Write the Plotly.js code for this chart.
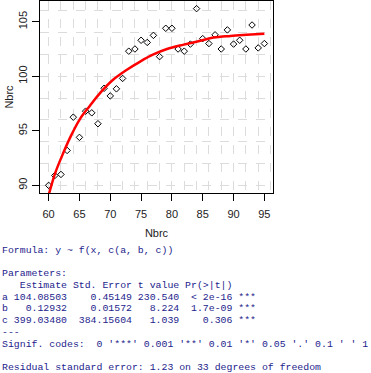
<!DOCTYPE html>
<html>
<head>
<meta charset="utf-8">
<script src="https://cdn.plot.ly/plotly-3.0.1.min.js"></script>
<style>html,body{margin:0;padding:0;background:#fff;}</style>
</head>
<body>
<div id="chart" style="width:371px;height:373px;"></div>
<script>
const nbrcX = [60,61,62,63,64,65,66,67,68,69,70,71,72,73,74,75,76,77,78,79,80,81,82,83,84,85,86,87,88,89,90,91,92,93,94,95];
const nbrcY = [90.0,90.9,91.0,93.2,96.25,94.4,96.8,96.65,95.65,98.9,98.2,98.85,99.8,102.3,102.5,103.3,103.1,103.75,101.8,104.4,104.4,102.5,102.3,102.95,106.2,103.45,103.0,103.8,102.5,104.25,102.95,103.3,102.5,104.7,102.6,103.0];
// Fitted curve
const fitX = [60.0,61.05,62.1,63.5,65.1,66.7,68.4,70.5,72.7,74.85,77.0,79.2,81.9,84.6,86.75,89.5,92.1,95.0];
const fitY = [89.1,91.1,92.6,94.4,96.1,97.3,98.5,99.7,100.6,101.35,102.0,102.5,102.9,103.25,103.55,103.7,103.8,103.9];
// Printed model summary
const summaryLines = [
  "Formula: y ~ f(x, c(a, b, c))",
  "",
  "Parameters:",
  "   Estimate Std. Error t value Pr(>|t|)",
  "a 104.08503    0.45149 230.540  < 2e-16 ***",
  "b   0.12932    0.01572   8.224  1.7e-09 ***",
  "c 399.03480  384.15604   1.039    0.306 ***",
  "---",
  "Signif. codes:  0 '***' 0.001 '**' 0.01 '*' 0.05 '.' 0.1 ' ' 1",
  "",
  "Residual standard error: 1.23 on 33 degrees of freedom"
];
const xTicks = [60,65,70,75,80,85,90,95];
const yTicks = [90,95,100,105];
const axisTitle = "Nbrc";

const W = 371, H = 373;
const M = {l:40, r:98, t:1, b:180};
const pw = W - M.l - M.r, ph = H - M.t - M.b;
const pxX = px => (px - M.l) / pw;
const pxY = py => (H - M.b - py) / ph;

const xRange = [58.6, 96.4], yRange = [89.3, 106.9];
const tickFont = {family:"Liberation Sans, Arial, sans-serif", size:11, color:"#222"};

const traces = [
  {x:nbrcX, y:nbrcY, type:'scatter', mode:'markers',
   marker:{symbol:'diamond-open', size:5, color:'#000', line:{width:1, color:'#000'}},
   hoverinfo:'skip', showlegend:false},
  {x:fitX, y:fitY, type:'scatter', mode:'lines',
   line:{color:'#ff0000', width:2.5, shape:'spline'}, hoverinfo:'skip', showlegend:false},
  {x:[xRange[0]], y:[yRange[0]], xaxis:'x2', yaxis:'y2', type:'scatter', mode:'markers',
   marker:{opacity:0}, hoverinfo:'skip', showlegend:false}
];

const annotations = summaryLines.map((t, i) => ({
  text: t.replace(/ /g, '\u00a0') || '\u00a0',
  xref:'paper', yref:'paper', x:pxX(0), y:pxY(250 + i*11.75),
  xanchor:'left', yanchor:'middle', showarrow:false, align:'left',
  font:{family:"Liberation Mono, Courier New, monospace", size:9.85, color:'#23238c'}
}));

const layout = {
  width:W, height:H, autosize:false,
  margin:M, paper_bgcolor:'#fff', plot_bgcolor:'#fff',
  showlegend:false,
  xaxis:{range:xRange, tickvals:xTicks, ticks:'outside', ticklen:7, tickcolor:'#000',
    showgrid:false, zeroline:false, showline:true, mirror:true, linecolor:'#000', linewidth:1,
    tickfont:tickFont, ticklabelstandoff:4,
    title:{text:axisTitle, font:tickFont, standoff:10}},
  yaxis:{range:yRange, tickvals:yTicks, ticks:'outside', ticklen:7, tickcolor:'#000',
    showgrid:false, zeroline:false, showline:true, mirror:true, linecolor:'#000', linewidth:1,
    tickfont:tickFont, tickangle:-90, ticklabelstandoff:1,
    title:{text:axisTitle, font:tickFont, standoff:0}},
  xaxis2:{range:xRange, overlaying:'x', dtick:2, tick0:60, showgrid:true, gridcolor:'#dcdcdc',
    griddash:'dash', gridwidth:1, showticklabels:false, ticks:'', zeroline:false, showline:false},
  yaxis2:{range:yRange, overlaying:'y', dtick:2, tick0:90, showgrid:true, gridcolor:'#dcdcdc',
    griddash:'dash', gridwidth:1, showticklabels:false, ticks:'', zeroline:false, showline:false},
  annotations:annotations
};

Plotly.newPlot('chart', traces, layout, {staticPlot:true, displayModeBar:false});
</script>
</body>
</html>
